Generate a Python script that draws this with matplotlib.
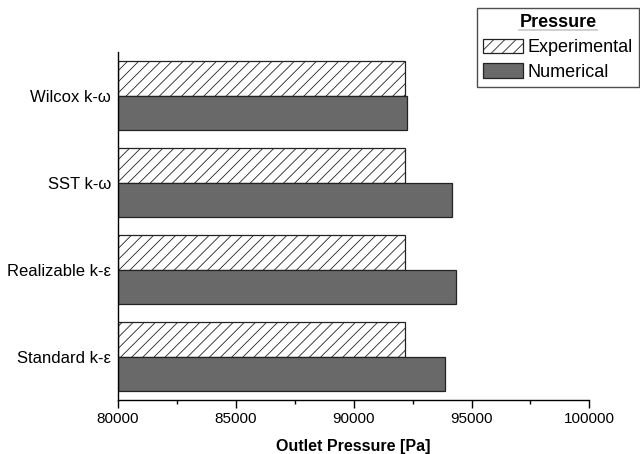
import matplotlib
matplotlib.use("Agg")
import matplotlib.pyplot as plt
import numpy as np
from matplotlib.lines import Line2D

plt.rcParams['font.family'] = ['Liberation Sans', 'DejaVu Sans']
plt.rcParams['hatch.linewidth'] = 0.6

models = ["Standard k-\u03b5", "Realizable k-\u03b5", "SST k-\u03c9", "Wilcox k-\u03c9"]
experimental = [92200, 92200, 92200, 92200]
numerical = [93880, 94360, 94180, 92270]

fig = plt.figure(figsize=(6.4, 4.54), dpi=100)
ax = fig.add_axes([0.184, 0.119, 0.737, 0.766])

y = np.arange(len(models))
h = 0.4
xmin = 80000
ax.barh(y + h / 2, np.array(experimental) - xmin, height=h, left=xmin,
        color="white", edgecolor="#222222", hatch="///", linewidth=0.9,
        label="Experimental")
ax.barh(y - h / 2, np.array(numerical) - xmin, height=h, left=xmin,
        color="#696969", edgecolor="#222222", linewidth=0.9,
        label="Numerical")

ax.set_xlim(80000, 100000)
ax.set_ylim(-0.5, 3.5)
ax.set_yticks(y)
ax.set_yticklabels(models, fontsize=12)
ax.tick_params(axis="y", length=0, pad=5)
ax.set_xticks(np.arange(80000, 100001, 5000))
ax.set_xticks(np.arange(82500, 100000, 5000), minor=True)
ax.tick_params(axis="x", which="major", length=6, width=1, labelsize=11, pad=3)
ax.tick_params(axis="x", which="minor", length=3, width=1)
ax.spines["top"].set_visible(False)
ax.spines["right"].set_visible(False)
ax.spines["left"].set_linewidth(1)
ax.spines["bottom"].set_linewidth(1)
ax.set_xlabel("Outlet Pressure [Pa]", fontsize=11.5, fontweight="bold", labelpad=9)

leg = fig.legend(loc="upper right", bbox_to_anchor=(639 / 640, 1 - 8 / 454),
                 title="Pressure", fontsize=13, frameon=True, fancybox=False,
                 edgecolor="#222222", handlelength=2.2, handleheight=0.85,
                 handletextpad=0.25, borderpad=0.35, labelspacing=0.4,
                 borderaxespad=0)
leg.get_title().set_fontweight("bold")
leg.get_title().set_fontsize(13)
leg.get_frame().set_linewidth(1)

# underline the legend title
fig.canvas.draw()
bb = leg.get_title().get_window_extent().transformed(fig.transFigure.inverted())
fig.add_artist(Line2D([bb.x0, bb.x1], [bb.y0 + 0.002, bb.y0 + 0.002],
                      transform=fig.transFigure, color="black", linewidth=1.3))

fig.savefig("out.png", dpi=100)
